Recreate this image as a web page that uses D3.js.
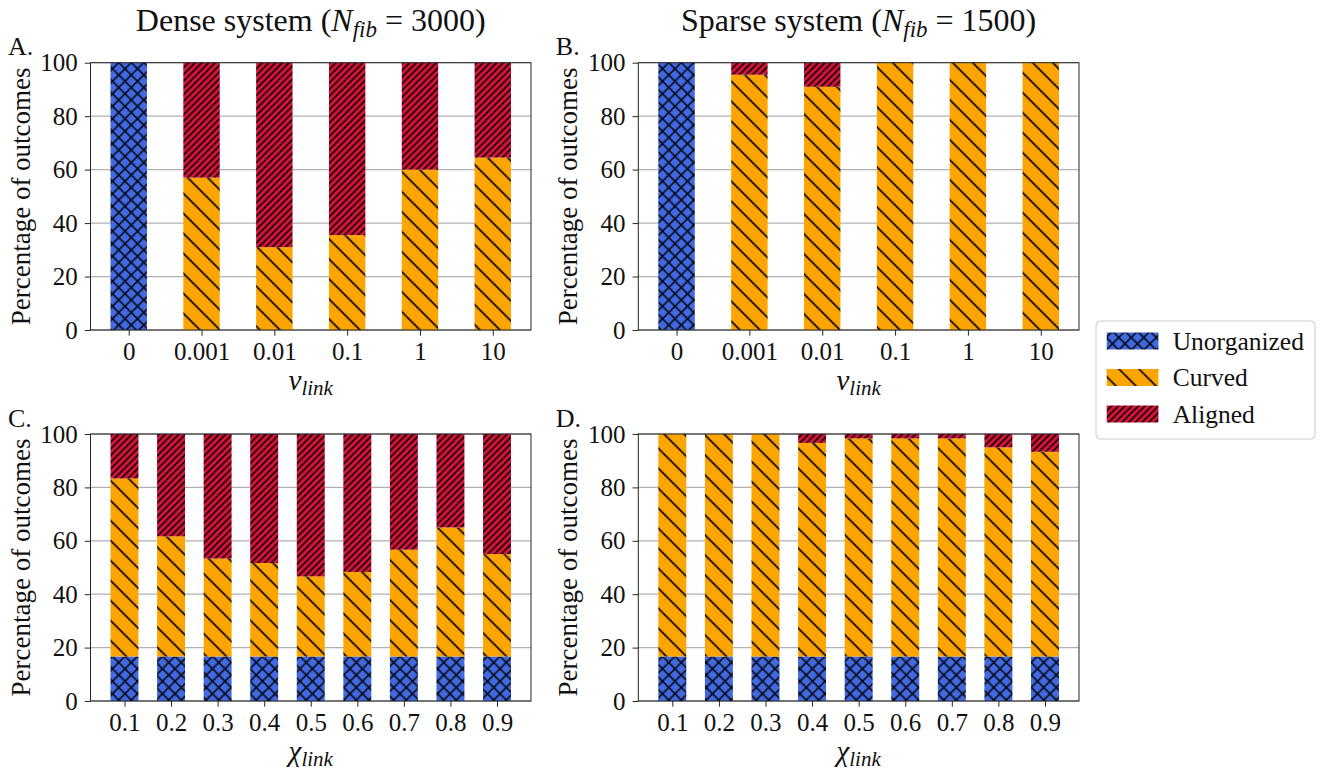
<!DOCTYPE html>
<html><head><meta charset="utf-8">
<script src="https://cdn.jsdelivr.net/npm/d3@7"></script>
<style>body{margin:0;background:#fff;} svg{display:block;} text{font-family:"Liberation Serif","Times New Roman","DejaVu Serif",serif;}</style>
</head><body>
<svg id="chart" width="1325" height="771"></svg>
<script>
// ---------------- DATA ----------------
const nuCategories = ["0", "0.001", "0.01", "0.1", "1", "10"];
const chiCategories = ["0.1", "0.2", "0.3", "0.4", "0.5", "0.6", "0.7", "0.8", "0.9"];
const yTicks = [0, 20, 40, 60, 80, 100];
const seriesNames = ["Unorganized", "Curved", "Aligned"];

const denseNuUnorganized = [100, 0, 0, 0, 0, 0];
const denseNuCurved      = [0, 57, 31, 35.5, 60, 64.5];
const denseNuAligned     = [0, 43, 69, 64.5, 40, 35.5];

const sparseNuUnorganized = [100, 0, 0, 0, 0, 0];
const sparseNuCurved      = [0, 95.5, 91, 100, 100, 100];
const sparseNuAligned     = [0, 4.5, 9, 0, 0, 0];

const denseChiUnorganized = [16.67, 16.67, 16.67, 16.67, 16.67, 16.67, 16.67, 16.67, 16.67];
const denseChiCurved      = [66.67, 45, 36.67, 35, 30, 31.67, 40, 48.33, 38.33];
const denseChiAligned     = [16.67, 38.33, 46.67, 48.33, 53.33, 51.67, 43.33, 35, 45];

const sparseChiUnorganized = [16.67, 16.67, 16.67, 16.67, 16.67, 16.67, 16.67, 16.67, 16.67];
const sparseChiCurved      = [83.33, 83.33, 83.33, 80, 81.67, 81.67, 81.67, 78.33, 76.67];
const sparseChiAligned     = [0, 0, 0, 3.33, 1.67, 1.67, 1.67, 5, 6.67];

// ---------------- STYLE ----------------
const FONT = "Liberation Serif";
const colors = { Unorganized: "#4169E1", Curved: "#FFA500", Aligned: "#DC143C" };
const svg = d3.select("#chart");
const defs = svg.append("defs");

function hatchPattern(id, bg, spacingH, angle, cross, lw) {
  const s = spacingH / Math.SQRT2;
  const p = defs.append("pattern").attr("id", id)
    .attr("patternUnits", "userSpaceOnUse")
    .attr("width", s).attr("height", s)
    .attr("patternTransform", `rotate(${angle})`);
  p.append("rect").attr("width", s).attr("height", s).attr("fill", bg);
  p.append("rect").attr("x", s / 2 - lw / 2).attr("y", 0).attr("width", lw).attr("height", s).attr("fill", "#000");
  if (cross) p.append("rect").attr("x", 0).attr("y", s / 2 - lw / 2).attr("width", s).attr("height", lw).attr("fill", "#000");
}
hatchPattern("hatch-Unorganized", colors.Unorganized, 12.5, 45, true, 1.5);
hatchPattern("hatch-Curved", colors.Curved, 20, -45, false, 1.6);
hatchPattern("hatch-Aligned", colors.Aligned, 6.7, 45, false, 1.6);

// ---------------- PANELS ----------------
const panels = [
  { letter: "A.", cats: nuCategories, barWidth: 0.5, x0: 90.5, x1: 531, y0: 62.7, y1: 330,
    series: [denseNuUnorganized, denseNuCurved, denseNuAligned], xlabel: "ν", sub: "link" },
  { letter: "B.", cats: nuCategories, barWidth: 0.5, x0: 638.3, x1: 1079, y0: 62.7, y1: 330,
    series: [sparseNuUnorganized, sparseNuCurved, sparseNuAligned], xlabel: "ν", sub: "link" },
  { letter: "C.", cats: chiCategories, barWidth: 0.6, x0: 90.5, x1: 531, y0: 434, y1: 701,
    series: [denseChiUnorganized, denseChiCurved, denseChiAligned], xlabel: "χ", sub: "link" },
  { letter: "D.", cats: chiCategories, barWidth: 0.6, x0: 638.3, x1: 1079, y0: 434, y1: 701,
    series: [sparseChiUnorganized, sparseChiCurved, sparseChiAligned], xlabel: "χ", sub: "link" }
];

function drawPanel(p) {
  const g = svg.append("g");
  const n = p.cats.length;
  const half = p.barWidth / 2 + 0.05 * (n - 1 + p.barWidth);
  const x = d3.scaleLinear().domain([-half, n - 1 + half]).range([p.x0, p.x1]);
  const y = d3.scaleLinear().domain([0, 100]).range([p.y1, p.y0]);

  g.append("g").selectAll("line").data(yTicks).join("line")
    .attr("x1", p.x0).attr("x2", p.x1)
    .attr("y1", d => y(d)).attr("y2", d => y(d))
    .attr("stroke", "#b0b0b0").attr("stroke-width", 1.3);

  const rows = p.cats.map((c, i) => {
    const o = { i };
    seriesNames.forEach((s, k) => o[s] = p.series[k][i]);
    return o;
  });
  const stacked = d3.stack().keys(seriesNames)(rows);
  g.append("g").selectAll("g").data(stacked).join("g")
    .attr("fill", d => `url(#hatch-${d.key})`)
    .selectAll("rect").data(d => d.filter(v => v[1] - v[0] > 0)).join("rect")
    .attr("x", d => x(d.data.i - p.barWidth / 2))
    .attr("width", x(p.barWidth) - x(0))
    .attr("y", d => y(d[1]))
    .attr("height", d => y(d[0]) - y(d[1]));

  const yAxis = d3.axisLeft(y).tickValues(yTicks).tickSize(5.7).tickSizeOuter(0).tickPadding(7);
  const ya = g.append("g").attr("transform", `translate(${p.x0},0)`).call(yAxis);
  const xAxis = d3.axisBottom(x).tickValues(d3.range(n)).tickFormat(i => p.cats[i])
    .tickSize(5.7).tickSizeOuter(0).tickPadding(7);
  const xa = g.append("g").attr("transform", `translate(0,${p.y1})`).call(xAxis);
  [ya, xa].forEach(a => {
    a.attr("font-family", null).attr("font-size", null);
    a.select(".domain").remove();
    a.selectAll("line").attr("stroke", "#262626").attr("stroke-width", 1);
    a.selectAll("text").style("font-family", FONT).style("font-size", "25px").attr("fill", "#111");
  });

  g.append("rect").attr("x", p.x0).attr("y", p.y0)
    .attr("width", p.x1 - p.x0).attr("height", p.y1 - p.y0)
    .attr("fill", "none").attr("stroke", "#262626").attr("stroke-width", 1);

  g.append("text")
    .attr("transform", `translate(${p.x0 - 61},${(p.y0 + p.y1) / 2}) rotate(-90)`)
    .attr("text-anchor", "middle").style("font-size", "27px").attr("fill", "#111")
    .text("Percentage of outcomes");

  const xl = g.append("text")
    .attr("x", (p.x0 + p.x1) / 2).attr("y", p.y1 + 60)
    .attr("text-anchor", "middle").style("font-size", "29px")
    .attr("font-style", "italic").attr("fill", "#111");
  xl.append("tspan").text(p.xlabel);
  xl.append("tspan").style("font-size", "21px").attr("dy", 5).text(p.sub);

  g.append("text").attr("x", p.x0 - 82.5).attr("y", p.y0 - 7.5)
    .style("font-size", "26px").attr("fill", "#111").text(p.letter);
}
panels.forEach(drawPanel);

function title(cx, label, num) {
  const t = svg.append("text").attr("x", cx).attr("y", 31)
    .attr("text-anchor", "middle").style("font-size", "32px").attr("fill", "#111");
  t.append("tspan").text(label + " (");
  t.append("tspan").attr("font-style", "italic").text("N");
  t.append("tspan").attr("font-style", "italic").style("font-size", "23px").attr("dy", 6).text("fib");
  t.append("tspan").attr("dy", -6).text(" = " + num + ")");
}
title((panels[0].x0 + panels[0].x1) / 2, "Dense system", "3000");
title((panels[1].x0 + panels[1].x1) / 2, "Sparse system", "1500");

const lg = svg.append("g");
lg.append("rect").attr("x", 1096).attr("y", 321).attr("width", 219).attr("height", 118)
  .attr("rx", 4).attr("fill", "#fff").attr("stroke", "#cccccc").attr("stroke-width", 1);
seriesNames.forEach((s, k) => {
  const cy = 341 + k * 36.5;
  lg.append("rect").attr("x", 1106.7).attr("y", cy - 8.5).attr("width", 51.7).attr("height", 17)
    .attr("fill", `url(#hatch-${s})`);
  lg.append("text").attr("x", 1172.7).attr("y", cy + 8.5)
    .style("font-size", "25.5px").attr("fill", "#111").text(s);
});
</script>
</body></html>
